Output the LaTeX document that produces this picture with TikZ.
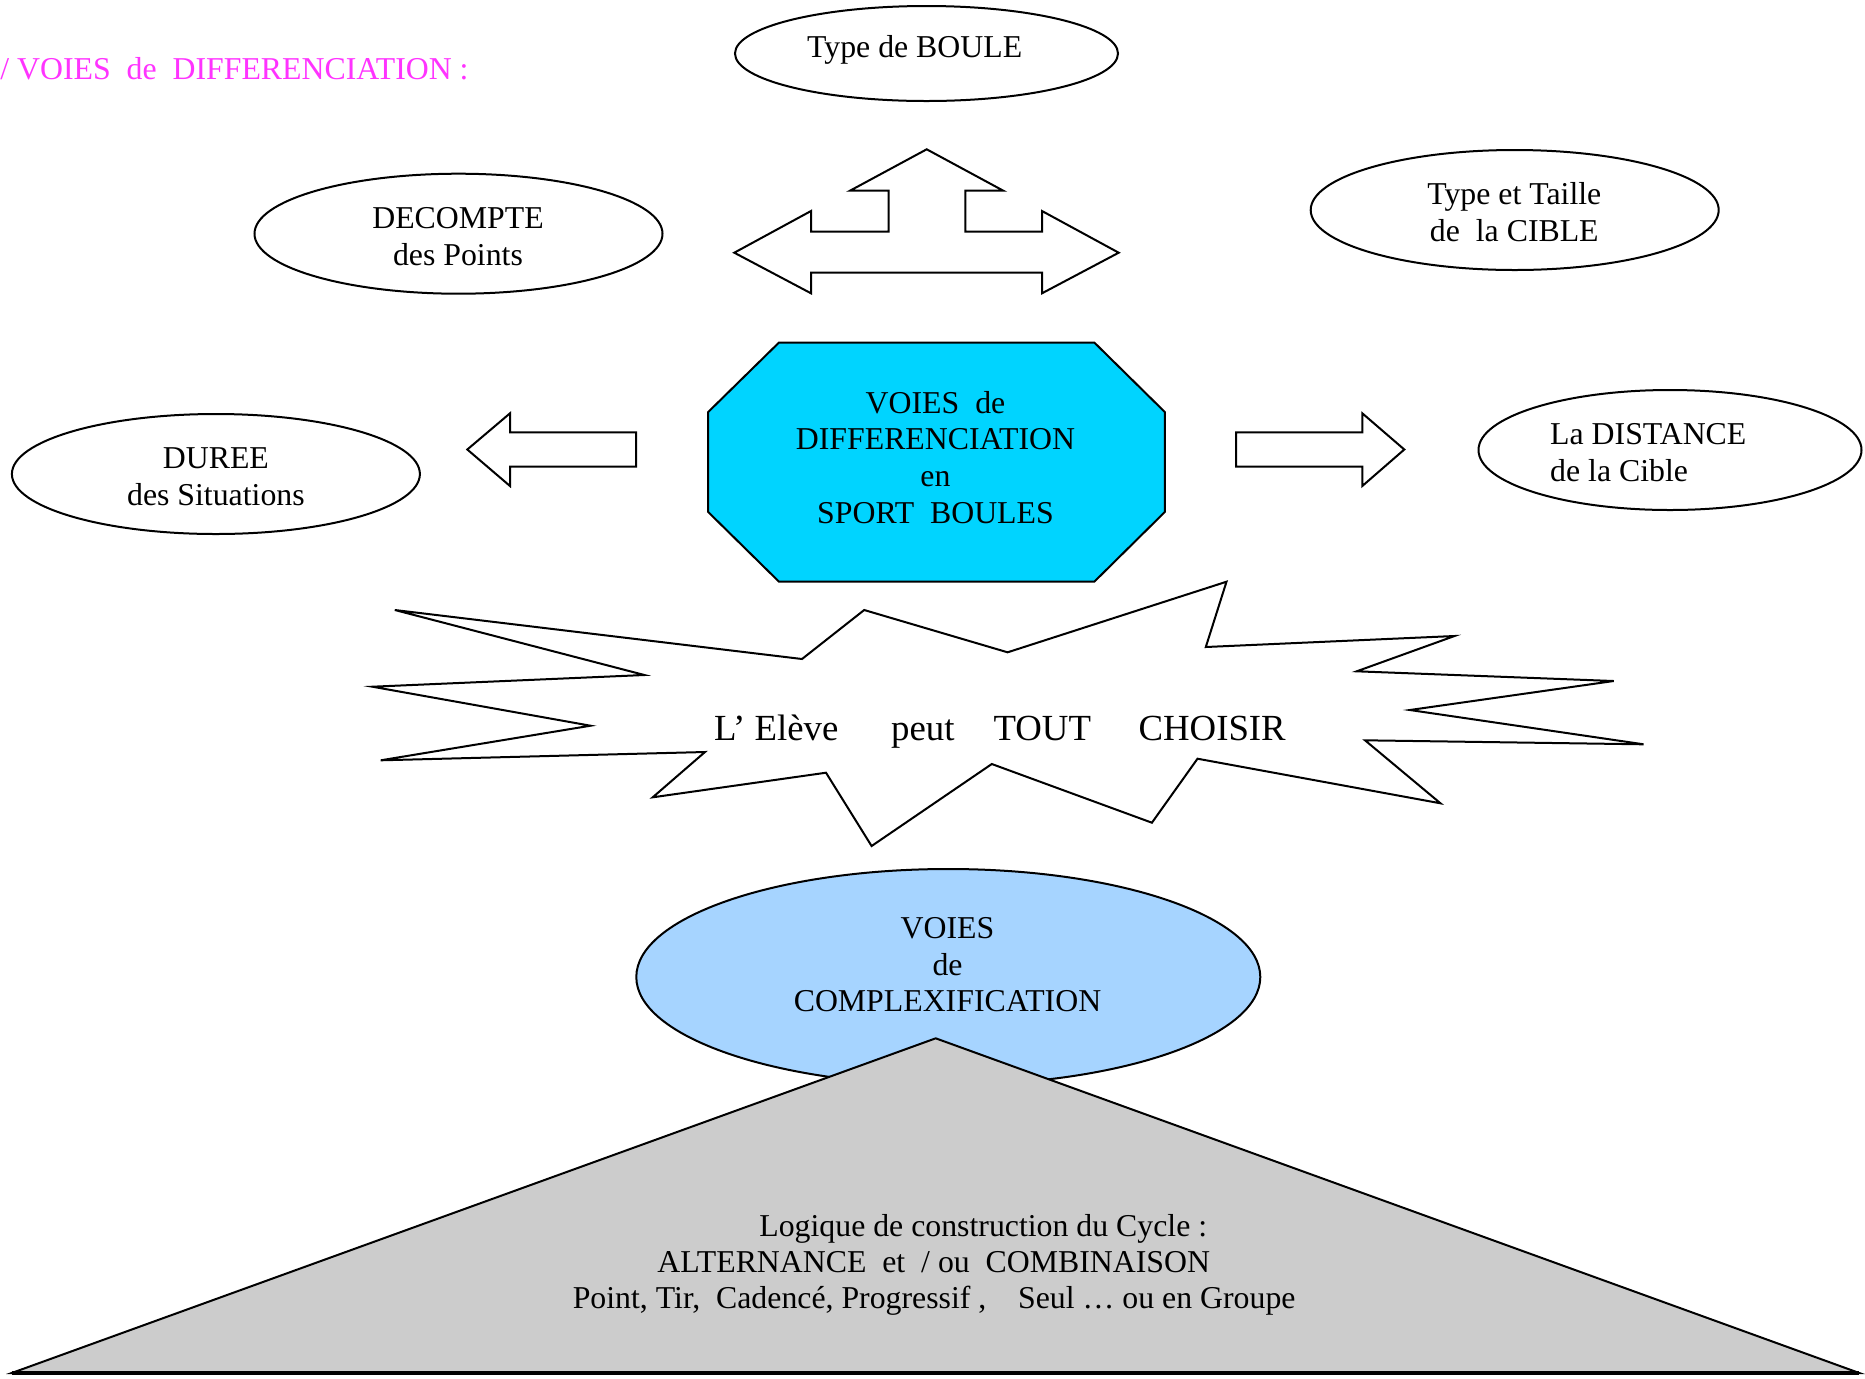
\documentclass[tikz,border=0pt]{standalone}
\usepackage{fontspec}
\setmainfont{Liberation Serif}
\usetikzlibrary{shapes.geometric}
\definecolor{titlepink}{RGB}{255,51,255}
\definecolor{octcyan}{RGB}{0,212,255}
\definecolor{paleblue}{RGB}{166,212,255}
\definecolor{trigray}{RGB}{204,204,204}
\frenchspacing
\tikzset{
  outline/.style={draw=black, line width=1pt, line join=miter},
  oval/.style={ellipse, outline, inner sep=0pt, fill=white},
  txt/.style={font=\fontsize{15.9}{18.4}\selectfont, inner sep=0pt, align=center, anchor=base},
  txtl/.style={font=\fontsize{15.9}{18.4}\selectfont, inner sep=0pt, align=left, anchor=base west},
}
\begin{document}
\begin{tikzpicture}[x=0.5pt,y=-0.5pt]
\useasboundingbox[fill=white] (0,0) rectangle (1865,1378);

% title
\node[txtl, text=titlepink] (title) at (0,79) {/ VOIES~ de~ DIFFERENCIATION :};

% ellipses (multi-line text nodes are anchored at the baseline of their last line)
\node[oval, minimum width=191.5pt, minimum height=47.5pt] (boule) at (926.5,53.5) {};
\node[txt] (bouletxt) at (914.7,57) {Type de BOULE};

\node[oval, minimum width=204pt, minimum height=60pt] (decompte) at (458.5,233.7) {};
\node[txt] (decomptetxt) at (458,265.2) {DECOMPTE\\des Points};

\node[oval, minimum width=204pt, minimum height=60pt] (cible) at (1514.7,210) {};
\node[txt] (cibletxt) at (1514.3,241.4) {Type et Taille\\de~ la CIBLE};

\node[oval, minimum width=204pt, minimum height=60pt] (duree) at (215.9,474) {};
\node[txt] (dureetxt) at (215.9,505.5) {DUREE\\des Situations};

\node[oval, minimum width=191.5pt, minimum height=60pt] (distance) at (1670,450) {};
\node[txtl] (distancetxt) at (1549.8,481.7) {La DISTANCE\\de la Cible};

% three-way arrow
\draw[outline, fill=white] (926.7,149.3) -- (1003.3,190.7) -- (965.3,190.7) -- (965.3,231.7)
  -- (1042,231.7) -- (1042,211) -- (1118.7,252.7) -- (1042,293.3) -- (1042,272.7)
  -- (811,272.7) -- (811,293.3) -- (734.3,252.7) -- (811,211) -- (811,231.7)
  -- (888.7,231.7) -- (888.7,190.7) -- (850,190.7) -- cycle;

% side arrows
\draw[outline, fill=white] (467.3,449.5) -- (510,413.3) -- (510,432.3) -- (636,432.3)
  -- (636,466.7) -- (510,466.7) -- (510,486) -- cycle;
\draw[outline, fill=white] (1404.3,449.5) -- (1362.3,413.3) -- (1362.3,432.3) -- (1236,432.3)
  -- (1236,466.7) -- (1362.3,466.7) -- (1362.3,486) -- cycle;

% octagon
\draw[outline, fill=octcyan] (779,342.5) -- (1094.3,342.5) -- (1164.8,412) -- (1164.8,512)
  -- (1094.3,581.7) -- (779,581.7) -- (708.2,512) -- (708.2,412) -- cycle;
\node[txt, font=\fontsize{15.9}{18.35}\selectfont] (octtxt) at (935.5,523.3)
  {VOIES~ de\\DIFFERENCIATION\\en\\SPORT~ BOULES};

% star
\draw[outline, fill=white] (394.8,610) -- (802,659) -- (864.2,610) -- (1007.6,652.3)
  -- (1226.5,581.7) -- (1205.8,647) -- (1454.5,636) -- (1356.7,671.3) -- (1613.7,681)
  -- (1409.8,710) -- (1643.6,744.3) -- (1365,740.3) -- (1440.5,803.3) -- (1197.5,758.7)
  -- (1151.9,822.7) -- (991.8,764) -- (871.6,846) -- (826,772.7) -- (652.7,797.3)
  -- (705,752) -- (380.7,760.3) -- (590.5,725.7) -- (372.4,686.7) -- (644.4,675) -- cycle;
\node[txtl, font=\fontsize{18.4}{22}\selectfont] (startxt) at (713.6,740)
  {L’ Elève\hspace{26.4pt}peut\hspace{19.5pt}TOUT\hspace{23.8pt}CHOISIR};

% complexification ellipse
\node[oval, fill=paleblue, minimum width=312pt, minimum height=108pt] (complex) at (948.3,977) {};
\node[txt, font=\fontsize{15.9}{18.35}\selectfont] (complextxt) at (947.5,1011.7)
  {VOIES\\de\\COMPLEXIFICATION};

% triangle
\draw[outline, fill=trigray] (935.7,1038.3) -- (1859.3,1373) -- (11.7,1373) -- cycle;
\draw[line width=1.8pt] (11.7,1373) -- (1859.3,1373);
\node[txtl, font=\fontsize{15.9}{18.05}\selectfont] (tritxt) at (572.4,1308.3)
  {\hspace*{93.3pt}Logique de construction du Cycle :\\
   \hspace*{42.3pt}ALTERNANCE~ et~ / ou~ COMBINAISON\\
   Point, Tir,~ Cadencé, Progressif ,~~~ Seul … ou en Groupe};
\end{tikzpicture}
\end{document}
